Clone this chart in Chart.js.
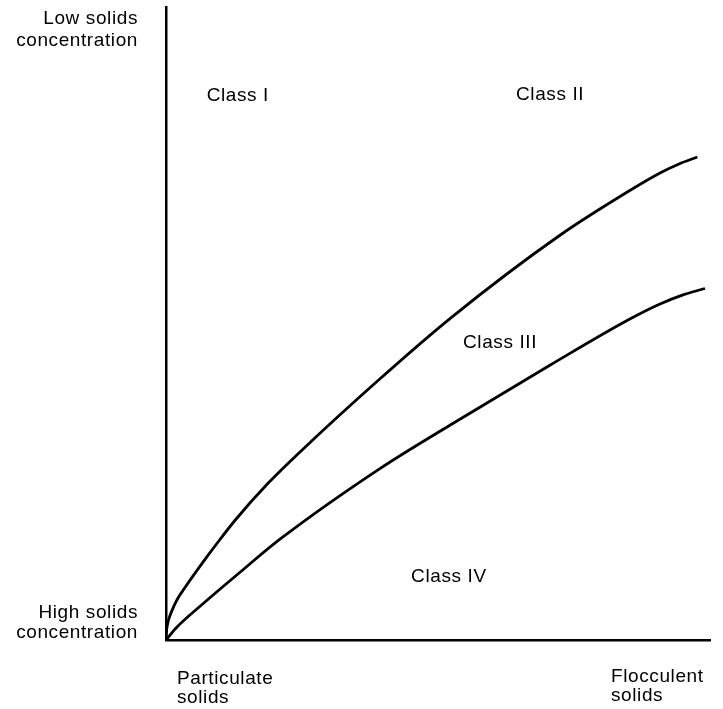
<!DOCTYPE html>
<html>
<head>
<meta charset="utf-8">
<script src="https://cdn.jsdelivr.net/npm/chart.js@4/dist/chart.umd.min.js"></script>
<style>
html,body{margin:0;padding:0;background:#fff;}
#wrap{position:relative;width:723px;height:709px;}
</style>
</head>
<body>
<div id="wrap"><canvas id="c" width="723" height="709"></canvas></div>
<script>
// Upper curve (Class I/II vs Class III boundary)
const upperX = [0, 0.074, 0.29, 0.74, 1.40, 2.21, 3.24, 7.54, 9.85, 12.74, 18.71, 24.69, 39.08, 52.26, 72.48, 84.80, 90.81, 94.30, 97.67];
const upperY = [0, 1.23, 2.53, 3.87, 5.26, 6.64, 7.98, 13.16, 15.80, 18.96, 24.71, 29.75, 41.07, 50.82, 63.98, 70.77, 73.78, 75.21, 76.30];
// Lower curve (Class III vs Class IV boundary)
const lowerX = [0, 2.02, 6.31, 13.66, 21.01, 39.39, 52.26, 70.64, 84.93, 90.81, 95.04, 99.08];
const lowerY = [0, 2.05, 5.37, 10.74, 15.96, 27.12, 33.97, 43.44, 50.55, 53.08, 54.53, 55.53];
// Region labels
const classLabels = ["Class I", "Class II", "Class III", "Class IV"];
const classX = [13.2, 70.6, 61.4, 52.0];
const classY = [85.9, 86.2, 46.9, 10.0];
// Axis end labels
const yTopLabel = ["Low solids", "concentration"];
const yBottomLabel = ["High solids", "concentration"];
const xLeftLabel = ["Particulate", "solids"];
const xRightLabel = ["Flocculent", "solids"];

const toPts = (xs, ys) => xs.map((x, i) => ({x: x, y: ys[i]}));

const FONT = '19px "Liberation Sans", Arial, sans-serif';

const textPlugin = {
  id: 'texts',
  afterDraw(chart) {
    const ctx = chart.ctx;
    const a = chart.chartArea;
    const xs = chart.scales.x, ys = chart.scales.y;
    ctx.save();
    ctx.fillStyle = '#000';
    ctx.font = FONT;
    try { ctx.letterSpacing = '0.6px'; } catch (e) {}
    ctx.textBaseline = 'middle';
    ctx.textAlign = 'center';
    classLabels.forEach((t, i) => {
      ctx.fillText(t, xs.getPixelForValue(classX[i]), ys.getPixelForValue(classY[i]));
    });
    ctx.textAlign = 'right';
    const rx = a.left - 28;
    ctx.fillText(yTopLabel[0], rx, a.top + 12);
    ctx.fillText(yTopLabel[1], rx, a.top + 34);
    ctx.fillText(yBottomLabel[0], rx, a.bottom - 27);
    ctx.fillText(yBottomLabel[1], rx, a.bottom - 7);
    ctx.textAlign = 'left';
    ctx.fillText(xLeftLabel[0], a.left + 11, a.bottom + 39);
    ctx.fillText(xLeftLabel[1], a.left + 11, a.bottom + 58);
    ctx.fillText(xRightLabel[0], a.left + 445, a.bottom + 37);
    ctx.fillText(xRightLabel[1], a.left + 445, a.bottom + 56);
    ctx.restore();
  }
};

new Chart(document.getElementById('c'), {
  type: 'scatter',
  data: {
    datasets: [
      { data: toPts(upperX, upperY), showLine: true, borderColor: '#000', borderWidth: 2.8,
        pointRadius: 0, fill: false, cubicInterpolationMode: 'monotone' },
      { data: toPts(lowerX, lowerY), showLine: true, borderColor: '#000', borderWidth: 2.8,
        pointRadius: 0, fill: false, cubicInterpolationMode: 'monotone' }
    ]
  },
  options: {
    responsive: false,
    animation: false,
    layout: { padding: { left: 166, top: 7, right: 13, bottom: 69 } },
    plugins: { legend: { display: false }, tooltip: { enabled: false } },
    scales: {
      x: { type: 'linear', min: 0, max: 100, ticks: { display: false },
           grid: { display: false, drawTicks: false },
           border: { display: true, color: '#000', width: 2.5 } },
      y: { type: 'linear', min: 0, max: 100, ticks: { display: false },
           grid: { display: false, drawTicks: false },
           border: { display: true, color: '#000', width: 2.5 } }
    }
  },
  plugins: [textPlugin]
});
</script>
</body>
</html>
